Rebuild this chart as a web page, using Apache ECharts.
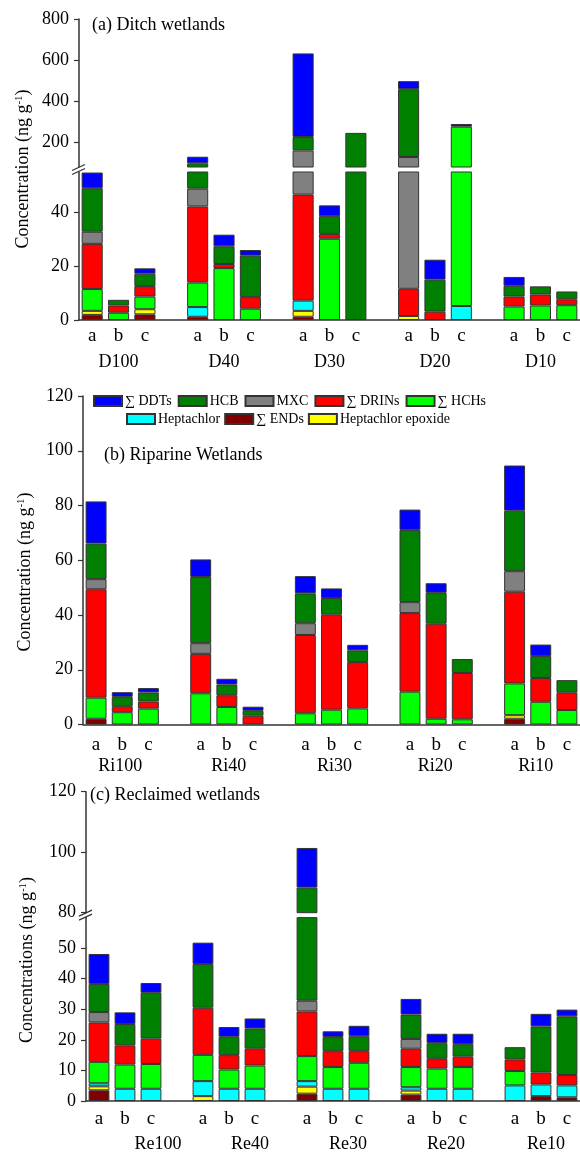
<!DOCTYPE html>
<html>
<head>
<meta charset="utf-8">
<title>OCPs in wetland soils</title>
<script src="https://cdn.jsdelivr.net/npm/echarts@6/dist/echarts.min.js"></script>
<style>
  html, body { margin: 0; padding: 0; background: #fff; }
  #chart { width: 580px; height: 1153px; }
</style>
</head>
<body>
<div id="chart"></div>
<script>
// every value array: site1 a,b,c | site2 a,b,c | ... | site5 a,b,c  (ng/g)
const samples = ['a', 'b', 'c']
const ditchSites = ['D100', 'D40', 'D30', 'D20', 'D10']
const ripSites = ['Ri100', 'Ri40', 'Ri30', 'Ri20', 'Ri10']
const recSites = ['Re100', 'Re40', 'Re30', 'Re20', 'Re10']

// (a) Ditch wetlands
const ditchENDs = [1.9, 0, 2.1, 1.2, 0, 0, 1.2, 0, 0, 0, 0, 0, 0, 0, 0]
const ditchEpoxide = [1.5, 0, 1.9, 0, 0, 0, 2.2, 0, 0, 1.5, 0, 0, 0, 0, 0]
const ditchHeptachlor = [0, 0, 0, 3.6, 0, 0, 3.8, 0, 0, 0, 0, 5.2, 0, 0, 0]
const ditchHCHs = [8.1, 2.7, 4.7, 9.1, 19.3, 4.2, 0, 30.2, 0, 0, 0, 271, 5.0, 5.4, 5.5]
const ditchDRINs = [16.8, 2.7, 3.9, 28.3, 1.5, 4.3, 39.4, 1.8, 0, 10.1, 3.1, 0, 3.7, 4.1, 2.2]
const ditchMXC = [4.5, 0, 0, 6.6, 0, 0, 114, 0, 0, 117, 0, 0, 0, 0, 0]
const ditchHCB = [16.2, 2.1, 4.6, 49.2, 6.6, 15.4, 65, 6.6, 246, 330, 11.9, 0, 4.0, 3.0, 2.9]
const ditchDDTs = [5.8, 0, 2.0, 32, 4.3, 2.1, 407, 4.0, 0, 39, 7.4, 13, 3.3, 0, 0]

// (b) Riparine wetlands
const ripENDs = [2.1, 0, 0, 0, 0, 0, 0, 0, 0, 0, 0, 0, 2.1, 0, 0]
const ripEpoxide = [0, 0, 0, 0, 0, 0, 0, 0, 0, 0, 0, 0, 1.3, 0, 0]
const ripHeptachlor = [0, 0, 0, 0, 0, 0, 0, 0, 0, 0, 0, 0, 0, 0, 0]
const ripHCHs = [7.7, 4.5, 5.8, 11.4, 6.4, 0, 4.1, 5.4, 5.9, 12.0, 2.1, 1.9, 11.6, 8.3, 5.3]
const ripDRINs = [39.6, 2.2, 2.6, 14.4, 4.3, 3.2, 28.6, 34.7, 16.9, 28.7, 34.7, 16.9, 33.5, 8.7, 6.3]
const ripMXC = [3.7, 0, 0, 3.9, 0, 0, 4.3, 0, 0, 4.0, 0, 0, 7.5, 0, 0]
const ripHCB = [13.0, 3.4, 3.3, 24.2, 3.9, 1.8, 10.9, 6.1, 4.3, 26.4, 11.3, 5.1, 22.1, 8.0, 4.6]
const ripDDTs = [15.4, 1.7, 1.6, 6.4, 2.1, 1.5, 6.3, 3.5, 2.0, 7.4, 3.5, 0, 16.5, 4.2, 0]

// (c) Reclaimed wetlands
const recENDs = [3.5, 0, 0, 0, 0, 0, 2.4, 0, 0, 2.1, 0, 0, 0, 1.6, 1.2]
const recEpoxide = [1.3, 0, 0, 1.6, 0, 0, 2.3, 0, 0, 1.3, 0, 0, 0, 0, 0]
const recHeptachlor = [1.0, 4.0, 4.0, 4.9, 4.0, 4.0, 1.8, 4.0, 4.0, 1.1, 4.0, 4.0, 5.1, 3.8, 3.9]
const recHCHs = [7.0, 7.9, 8.1, 8.6, 6.3, 7.6, 8.2, 7.1, 8.5, 6.6, 6.6, 7.1, 4.7, 0, 0]
const recDRINs = [12.9, 6.3, 8.3, 15.4, 4.7, 5.5, 14.6, 5.2, 3.8, 6.0, 3.2, 3.4, 3.8, 3.9, 3.4]
const recMXC = [3.4, 0, 0, 0, 0, 0, 3.5, 0, 0, 3.2, 0, 0, 0, 0, 0]
const recHCB = [9.2, 7.0, 15.0, 14.3, 6.0, 6.6, 55.5, 4.6, 4.9, 8.0, 5.1, 4.1, 4.0, 15.1, 19.2]
const recDDTs = [9.8, 3.8, 3.2, 7.0, 3.2, 3.3, 13.1, 1.9, 3.4, 5.1, 3.1, 3.4, 0, 4.1, 2.2]

// tick labels
const ditchUpperTicks = [200, 400, 600, 800]
const ditchUpperMinor = [100, 300, 500, 700]
const ditchLowerTicks = [0, 20, 40]
const ditchLowerMinor = [10, 30, 50]
const ripTicks = [0, 20, 40, 60, 80, 100, 120]
const ripMinor = [10, 30, 50, 70, 90, 110]
const recUpperTicks = [80, 100, 120]
const recUpperMinor = [90, 110]
const recLowerTicks = [0, 10, 20, 30, 40, 50]

const serif = 'Liberation Serif, Times New Roman, serif'
const axisColor = '#333'

// stack order, bottom to top
const compounds = [
  { name: '∑ ENDs', color: '#800000' },
  { name: 'Heptachlor epoxide', color: '#ffff00' },
  { name: 'Heptachlor', color: '#00ffff' },
  { name: '∑ HCHs', color: '#00ff00' },
  { name: '∑ DRINs', color: '#ff0000' },
  { name: 'MXC', color: '#808080' },
  { name: 'HCB', color: '#008000' },
  { name: '∑ DDTs', color: '#0000ff' }
]

// 15 values -> 19 slots (empty slot between sites), zero means no bar
function slots(values) {
  let out = []
  values.forEach((v, i) => {
    out.push(v > 0 ? v : null)
    if (i % 3 === 2 && i < values.length - 1) out.push(null)
  })
  return out
}

let option = {
  animation: false,
  backgroundColor: '#fff',
  title: [
    { text: '(a) Ditch wetlands', left: 92, top: 16 },
    { text: '(b) Riparine Wetlands', left: 104, top: 446 },
    { text: '(c) Reclaimed wetlands', left: 90, top: 786 }
  ].map(t => Object.assign(t, {
    padding: 0,
    textStyle: { fontFamily: serif, fontSize: 18, fontWeight: 'normal', color: '#000' }
  })),
  legend: [
    { data: ['∑ DDTs', 'HCB', 'MXC', '∑ DRINs', '∑ HCHs'], left: 93, top: 394, itemGap: 6 },
    { data: ['Heptachlor', '∑ ENDs', 'Heptachlor epoxide'], left: 126, top: 412, itemGap: 4 }
  ].map(l => Object.assign(l, {
    icon: 'rect',
    itemWidth: 28,
    itemHeight: 10,
    padding: 0,
    selectedMode: false,
    textStyle: { fontFamily: serif, fontSize: 14, color: '#000', padding: [0, 0, 0, -2] }
  })),
  grid: [],
  xAxis: [],
  yAxis: [],
  series: [],
  graphic: []
}

function addPanel(p) {
  let cats = []
  p.sites.forEach((s, k) => {
    samples.forEach(m => cats.push(s + ' ' + m))
    if (k < p.sites.length - 1) cats.push(s + ' gap')
  })
  let rich = {}
  p.nudge.forEach((n, k) => {
    rich['g' + k] = {
      fontFamily: serif, fontSize: 18, color: '#000',
      padding: [0, n < 0 ? -2 * n : 0, 0, n > 0 ? 2 * n : 0]
    }
  })
  p.segs.forEach((seg, j) => {
    let gi = option.grid.length
    let isBottom = j === p.segs.length - 1
    option.grid.push({ left: p.left, width: p.width, top: seg.top, height: seg.height })
    let xi = option.xAxis.length
    option.xAxis.push({
      type: 'category',
      gridIndex: gi,
      data: cats,
      show: isBottom,
      axisLine: { onZero: false, lineStyle: { color: axisColor, width: 1.5 } },
      axisTick: { alignWithLabel: true, interval: 0, length: 5, lineStyle: { color: axisColor, width: 1.2 } },
      axisLabel: {
        interval: 0,
        margin: p.abcMargin,
        fontFamily: serif,
        fontSize: 19,
        color: '#000',
        formatter: v => {
          let m = v.split(' ')[1]
          return samples.includes(m) ? m : ''
        }
      }
    })
    if (isBottom) {
      option.xAxis.push({
        type: 'category',
        gridIndex: gi,
        data: cats,
        position: 'bottom',
        axisLine: { show: false, onZero: false },
        axisTick: {
          length: 5,
          interval: i => i % 4 === 0 || i % 4 === 3,
          lineStyle: { color: axisColor, width: 1.2 }
        },
        axisLabel: {
          interval: i => i % 4 === 1,
          margin: p.groupMargin,
          formatter: (v, i) => {
            let k = Math.floor(i / 4)
            return '{g' + k + '|' + p.sites[k] + '}'
          },
          rich: rich
        }
      })
    }
    let yi = option.yAxis.length
    option.yAxis.push({
      type: 'value',
      gridIndex: gi,
      min: seg.min,
      max: seg.max,
      splitLine: { show: false },
      axisLine: { show: true, lineStyle: { color: axisColor, width: 1.5 } },
      axisTick: { show: true, length: 5, customValues: seg.ticks, lineStyle: { color: axisColor, width: 1.2 } },
      axisLabel: { customValues: seg.ticks, margin: 10, fontFamily: serif, fontSize: 18, color: '#000' }
    })
    if (seg.minor) {
      option.yAxis.push({
        type: 'value',
        gridIndex: gi,
        min: seg.min,
        max: seg.max,
        splitLine: { show: false },
        axisLine: { show: false },
        axisLabel: { show: false },
        axisTick: { show: true, length: 3, customValues: seg.minor, lineStyle: { color: axisColor, width: 1.2 } }
      })
    }
    compounds.forEach((c, ci) => {
      option.series.push({
        type: 'bar',
        name: c.name,
        xAxisIndex: xi,
        yAxisIndex: yi,
        stack: 'g' + gi,
        barWidth: '80%',
        clip: true,
        emphasis: { disabled: true },
        itemStyle: { color: c.color, borderColor: '#333', borderWidth: 1 },
        data: slots(p.values[ci])
      })
    })
  })
  // rotated y axis title
  option.graphic.push({
    type: 'text',
    x: p.nameX,
    y: p.nameY,
    rotation: Math.PI / 2,
    style: {
      text: '{t|' + p.yName + ' (ng g}{s|-1}{t|)}',
      rich: {
        t: { fontFamily: serif, fontSize: 18, fill: '#000', color: '#000' },
        s: { fontFamily: serif, fontSize: 11, fill: '#000', color: '#000', verticalAlign: 'top' }
      },
      align: 'center',
      verticalAlign: 'middle'
    }
  })
  // break marks
  if (p.segs.length > 1) {
    let yc = (p.segs[0].top + p.segs[0].height + p.segs[1].top) / 2
    let x = p.left
    ;[-2, 2].forEach(d => {
      option.graphic.push({
        type: 'line',
        shape: { x1: x - 7, y1: yc + 3 + d, x2: x + 6, y2: yc - 3 + d },
        style: { stroke: axisColor, lineWidth: 1.2 }
      })
    })
  }
}

addPanel({
  sites: ditchSites,
  values: [ditchENDs, ditchEpoxide, ditchHeptachlor, ditchHCHs, ditchDRINs, ditchMXC, ditchHCB, ditchDDTs],
  left: 79, width: 501,
  segs: [
    { top: 19, height: 148, min: 80, max: 800, ticks: ditchUpperTicks, minor: ditchUpperMinor },
    { top: 172, height: 148, min: 0, max: 55, ticks: ditchLowerTicks, minor: ditchLowerMinor }
  ],
  abcMargin: 7, groupMargin: 33, nudge: [0, 0, 0, 0, 0],
  yName: 'Concentration', nameX: 23, nameY: 169
})

addPanel({
  sites: ripSites,
  values: [ripENDs, ripEpoxide, ripHeptachlor, ripHCHs, ripDRINs, ripMXC, ripHCB, ripDDTs],
  left: 83, width: 498,
  segs: [
    { top: 396, height: 328.5, min: 0, max: 120, ticks: ripTicks, minor: ripMinor }
  ],
  abcMargin: 11, groupMargin: 33, nudge: [-2, 2, 3, -1, -5],
  yName: 'Concentration', nameX: 25, nameY: 572
})

addPanel({
  sites: recSites,
  values: [recENDs, recEpoxide, recHeptachlor, recHCHs, recDRINs, recMXC, recHCB, recDDTs],
  left: 86, width: 497,
  segs: [
    { top: 791.7, height: 121, min: 80, max: 120, ticks: recUpperTicks, minor: recUpperMinor },
    { top: 917.6, height: 184.1, min: 0, max: 60, ticks: recLowerTicks, minor: null }
  ],
  abcMargin: 9, groupMargin: 34, nudge: [33, 21, 15, 9, 5],
  yName: 'Concentrations', nameX: 27, nameY: 960
})

let chart = echarts.init(document.getElementById('chart'), null, { renderer: 'canvas' })
chart.setOption(option)
</script>
</body>
</html>
